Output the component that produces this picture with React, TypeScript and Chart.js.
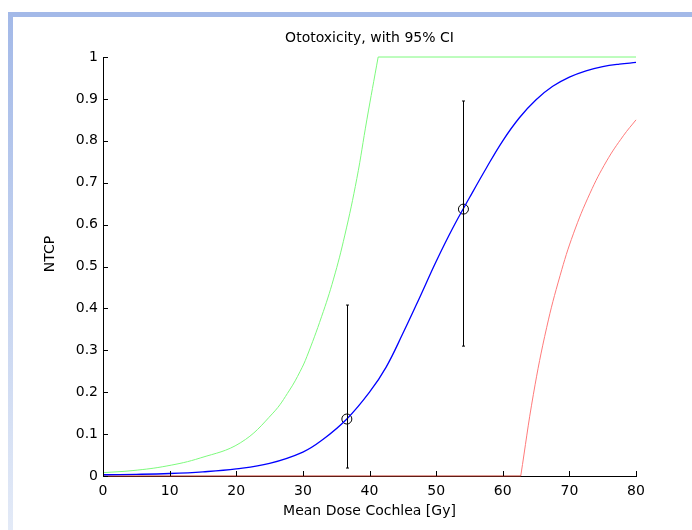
import React, { useEffect, useRef } from 'react';
import { Chart, registerables } from 'chart.js';

Chart.register(...registerables);

// ---- data ----
const chartTitle = 'Ototoxicity, with 95% CI';
const xAxisTitle = 'Mean Dose Cochlea [Gy]';
const yAxisTitle = 'NTCP';

const xTicks = [0, 10, 20, 30, 40, 50, 60, 70, 80];
const yTicks = [0, 0.1, 0.2, 0.3, 0.4, 0.5, 0.6, 0.7, 0.8, 0.9, 1];

// fitted NTCP model (blue)
const modelDose = [0, 5, 10, 15, 20, 25, 30, 33, 36.6, 40, 42.5, 45, 47.5, 50, 52.5, 55, 57.5, 60, 62.5, 65, 67.5, 70, 72.5, 75, 77.5, 80];
const modelNtcp = [0.003, 0.004, 0.006, 0.01, 0.017, 0.03, 0.057, 0.087, 0.136, 0.2, 0.26, 0.34, 0.425, 0.512, 0.592, 0.664, 0.734, 0.8, 0.855, 0.898, 0.93, 0.952, 0.967, 0.977, 0.983, 0.987];

// upper 95% CI (green)
const upperDose = [0, 4.5, 9.6, 14.6, 20.6, 25.5, 28, 29.6, 30.6, 32.8, 34.6, 36.3, 38.1, 39.6, 41.3, 80];
const upperNtcp = [0.008, 0.013, 0.024, 0.043, 0.079, 0.15, 0.205, 0.25, 0.285, 0.38, 0.47, 0.575, 0.71, 0.85, 1, 1];

// lower 95% CI (red)
const lowerDose = [0, 62.7, 64.6, 66.6, 68.6, 70.6, 73.1, 75.6, 78.1, 80];
const lowerNtcp = [0, 0, 0.195, 0.355, 0.478, 0.578, 0.675, 0.752, 0.812, 0.85];

// observed groups with 95% CI
const obsDose = [36.6, 54.1];
const obsNtcp = [0.136, 0.637];
const obsLow = [0.019, 0.31];
const obsHigh = [0.408, 0.895];

const FONT = '"DejaVu Sans", Verdana, sans-serif';

const toPts = (xs: number[], ys: number[]) => xs.map((x, i) => ({ x, y: ys[i] }));

export default function App() {
  const canvasRef = useRef<HTMLCanvasElement | null>(null);

  useEffect(() => {
    const canvas = canvasRef.current;
    if (!canvas) return;

    const upperPts = toPts(upperDose, upperNtcp);
    const upperK = upperNtcp.indexOf(1);
    const upperRise = upperPts.slice(0, upperK + 1);
    const upperFlat = upperPts.slice(upperK);

    const lowerPts = toPts(lowerDose, lowerNtcp);
    const lowerK = lowerNtcp.lastIndexOf(0);
    const lowerFlat = lowerPts.slice(0, lowerK + 1);
    const lowerRise = lowerPts.slice(lowerK);

    const green = '#7dfa7d';
    const red = '#ff7a7a';
    const blue = '#0000ff';

    const lineDs = (data: any[], color: string, width: number, tension: number) => ({
      data,
      borderColor: color,
      backgroundColor: color,
      borderWidth: width,
      pointRadius: 0,
      fill: false,
      clip: false as any,
      tension,
    });

    const extras = {
      id: 'matlabExtras',
      afterDatasetsDraw(chart: any) {
        const ctx = chart.ctx;
        const xs = chart.scales.x;
        const ys = chart.scales.y;
        const area = chart.chartArea;
        ctx.save();
        // inward ticks
        ctx.strokeStyle = '#000';
        ctx.lineWidth = 1;
        ctx.beginPath();
        xTicks.forEach((v) => {
          const px = Math.round(xs.getPixelForValue(v)) + 0.5;
          ctx.moveTo(px, area.bottom);
          ctx.lineTo(px, area.bottom - 5);
        });
        yTicks.forEach((v) => {
          const py = Math.round(ys.getPixelForValue(v)) + 0.5;
          ctx.moveTo(area.left, py);
          ctx.lineTo(area.left + 5, py);
        });
        ctx.stroke();
        // error bars
        ctx.beginPath();
        obsDose.forEach((d, i) => {
          const px = Math.round(xs.getPixelForValue(d)) + 0.5;
          const y1 = ys.getPixelForValue(obsLow[i]);
          const y2 = ys.getPixelForValue(obsHigh[i]);
          ctx.moveTo(px, y1);
          ctx.lineTo(px, y2);
          ctx.moveTo(px - 1.5, y1);
          ctx.lineTo(px + 1.5, y1);
          ctx.moveTo(px - 1.5, y2);
          ctx.lineTo(px + 1.5, y2);
        });
        ctx.stroke();
        // chart title
        ctx.fillStyle = '#000';
        ctx.font = `14px ${FONT}`;
        ctx.textAlign = 'center';
        ctx.textBaseline = 'middle';
        ctx.fillText(chartTitle, (area.left + area.right) / 2, 38);
        // y-axis title
        ctx.translate(50, 254);
        ctx.rotate(-Math.PI / 2);
        ctx.fillText(yAxisTitle, 0, 0);
        ctx.restore();
      },
    };

    const chart = new Chart(canvas, {
      type: 'line',
      data: {
        datasets: [
          lineDs(upperRise, green, 1, 0.4),
          lineDs(upperFlat, green, 1, 0),
          lineDs(toPts(modelDose, modelNtcp), blue, 1.3, 0.4),
          lineDs(lowerFlat, '#c0392b', 1, 0),
          lineDs(lowerRise, red, 1, 0.4),
          {
            type: 'scatter',
            data: toPts(obsDose, obsNtcp),
            showLine: false,
            pointRadius: 5,
            pointHoverRadius: 5,
            pointBorderWidth: 1,
            pointBorderColor: '#000',
            pointBackgroundColor: 'rgba(0,0,0,0)',
            clip: false as any,
          } as any,
        ] as any,
      },
      options: {
        animation: false,
        responsive: false,
        maintainAspectRatio: false,
        events: [],
        layout: { padding: { top: 57, right: 56, left: 0, bottom: 0 } },
        plugins: {
          legend: { display: false },
          title: { display: false },
          tooltip: { enabled: false },
        },
        scales: {
          x: {
            type: 'linear',
            min: 0,
            max: 80,
            afterFit: (s: any) => { s.height = 54; },
            grid: { display: false, drawTicks: false },
            border: { display: true, color: '#000', width: 1 },
            ticks: {
              stepSize: 10,
              autoSkip: false,
              maxRotation: 0,
              padding: 7,
              color: '#000',
              font: { family: FONT, size: 14 },
            },
            title: {
              display: true,
              text: xAxisTitle,
              color: '#000',
              font: { family: FONT, size: 14 },
              padding: { top: 0, bottom: 10 },
            },
          },
          y: {
            type: 'linear',
            min: 0,
            max: 1,
            afterFit: (s: any) => { s.width = 103; },
            grid: { display: false, drawTicks: false },
            border: { display: true, color: '#000', width: 1 },
            ticks: {
              stepSize: 0.1,
              autoSkip: false,
              padding: 5,
              color: '#000',
              font: { family: FONT, size: 14 },
              callback: (v: any) => String(Number(Number(v).toFixed(1))),
            },
            title: { display: false },
          },
        },
      } as any,
      plugins: [extras],
    });

    return () => chart.destroy();
  }, []);

  return (
    <div style={{ position: 'absolute', left: 0, top: 0, width: 692, height: 530, background: '#fff', overflow: 'hidden' }}>
      <canvas ref={canvasRef} width={692} height={530} style={{ position: 'absolute', left: 0, top: 0, width: 692, height: 530 }} />
      <div style={{ position: 'absolute', left: 8, top: 12, width: 684, height: 5, background: '#a3b9e8' }} />
      <div style={{ position: 'absolute', left: 8, top: 12, width: 5, height: 518, background: 'linear-gradient(#a3b9e8, #e3eaf7)' }} />
    </div>
  );
}
